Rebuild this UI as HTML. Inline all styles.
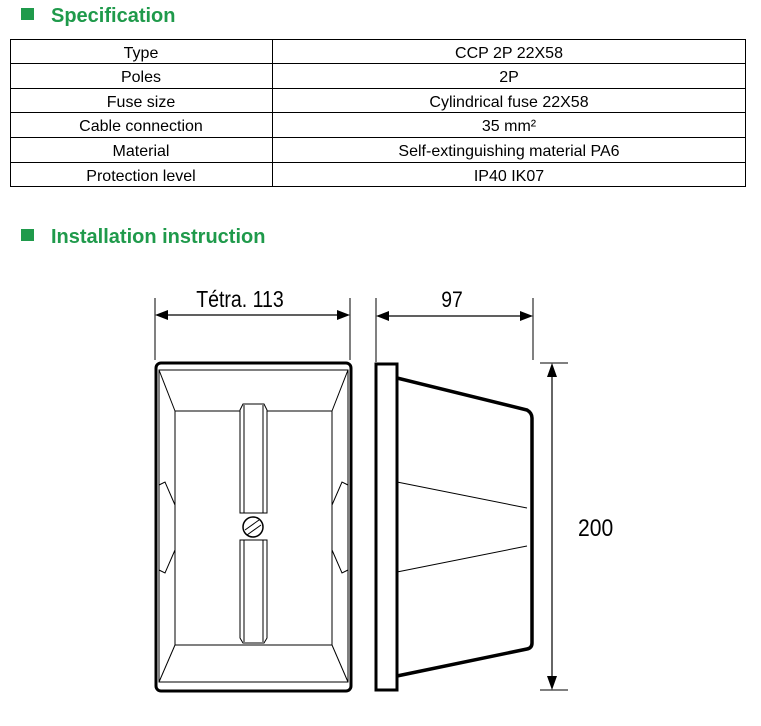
<!DOCTYPE html>
<html><head><meta charset="utf-8"><style>
body{margin:0;background:#fff;}
svg{display:block;}
</style></head><body>
<svg width="761" height="726" viewBox="0 0 761 726" xmlns="http://www.w3.org/2000/svg">
<rect width="761" height="726" fill="#fff"/>
<!-- headings -->
<rect x="21" y="8" width="13" height="12" fill="#1f9a4b"/>
<text x="51" y="22" font-family="Liberation Sans, sans-serif" font-weight="bold" font-size="20" fill="#1f9a4b">Specification</text>
<rect x="21" y="229" width="13" height="12" fill="#1f9a4b"/>
<text x="51" y="243" font-family="Liberation Sans, sans-serif" font-weight="bold" font-size="20" fill="#1f9a4b">Installation instruction</text>
<!-- table -->
<g stroke="#000" stroke-width="1" fill="none">
<rect x="10.5" y="39.5" width="735" height="147"/>
<line x1="272.5" y1="39" x2="272.5" y2="187"/>
<line x1="10" y1="63.5" x2="746" y2="63.5"/>
<line x1="10" y1="88.5" x2="746" y2="88.5"/>
<line x1="10" y1="112.5" x2="746" y2="112.5"/>
<line x1="10" y1="137.5" x2="746" y2="137.5"/>
<line x1="10" y1="162.5" x2="746" y2="162.5"/>
</g>
<g font-family="Liberation Sans, sans-serif" font-size="16" fill="#000" text-anchor="middle">
<text x="141" y="58">Type</text><text x="509" y="58">CCP 2P 22X58</text>
<text x="141" y="82">Poles</text><text x="509" y="82">2P</text>
<text x="141" y="107">Fuse size</text><text x="509" y="107">Cylindrical fuse 22X58</text>
<text x="141" y="131">Cable connection</text><text x="509" y="131">35 mm²</text>
<text x="141" y="156">Material</text><text x="509" y="156">Self-extinguishing material PA6</text>
<text x="141" y="181">Protection level</text><text x="509" y="181">IP40 IK07</text>
</g>
<!-- left drawing -->
<g stroke="#000" fill="none">
<line x1="155" y1="298" x2="155" y2="360" stroke-width="1"/>
<line x1="350" y1="298" x2="350" y2="360" stroke-width="1"/>
<line x1="162" y1="315" x2="343" y2="315" stroke-width="1.2"/>
<rect x="156" y="363" width="195" height="328" rx="5" stroke-width="3"/>
<rect x="159" y="370" width="189" height="312" stroke-width="1"/>
<rect x="175" y="411" width="157" height="234" stroke-width="1"/>
<line x1="159" y1="370" x2="175" y2="411"/><line x1="348" y1="370" x2="332" y2="411"/>
<line x1="159" y1="682" x2="175" y2="645"/><line x1="348" y1="682" x2="332" y2="645"/>
<path d="M159 485 L165 482 L175 505" /><path d="M159 570 L165 573 L175 550"/>
<path d="M348 485 L342 482 L332 505" /><path d="M348 570 L342 573 L332 550"/>
<path d="M240 513 V410 L243 404 H264 L267 410 V513 Z" fill="#fff"/>
<path d="M240 540 V638 L243 643 H264 L267 638 V540 Z" fill="#fff"/>
<line x1="244" y1="405" x2="244" y2="513"/><line x1="263" y1="405" x2="263" y2="513"/>
<line x1="244" y1="540" x2="244" y2="642"/><line x1="263" y1="540" x2="263" y2="642"/>
<circle cx="253" cy="527" r="10" stroke-width="1.5" fill="#fff"/>
<line x1="245" y1="530" x2="259" y2="520"/><line x1="247" y1="535" x2="261" y2="525"/>
</g>
<path d="M155 315 L168 310 L168 320 Z M350 315 L337 310 L337 320 Z" fill="#000"/>
<text x="240" y="307" font-family="Liberation Sans Narrow, Liberation Sans, sans-serif" font-size="23" text-anchor="middle" transform="translate(240 0) scale(0.85 1) translate(-240 0)">Tétra. 113</text>
<!-- right drawing -->
<g stroke="#000" fill="none">
<line x1="376" y1="298" x2="376" y2="362" stroke-width="1"/>
<line x1="533" y1="298" x2="533" y2="360" stroke-width="1"/>
<line x1="383" y1="316" x2="526" y2="316" stroke-width="1.2"/>
<rect x="376" y="364" width="21" height="326" stroke-width="3"/>
<path d="M397 378 L527 410 Q532 413 532 418 L532 643 Q532 648 527 649 L397 676" stroke-width="3.5"/>
<line x1="397" y1="482" x2="527" y2="508" stroke-width="1"/>
<line x1="397" y1="572" x2="527" y2="546" stroke-width="1"/>
<line x1="540" y1="363" x2="568" y2="363"/>
<line x1="540" y1="690" x2="568" y2="690"/>
<line x1="552" y1="372" x2="552" y2="681" stroke-width="1.2"/>
</g>
<path d="M376 316 L389 311 L389 321 Z M533 316 L520 311 L520 321 Z M552 363 L547 377 L557 377 Z M552 690 L547 676 L557 676 Z" fill="#000"/>
<text x="452" y="307" font-family="Liberation Sans, sans-serif" font-size="22" text-anchor="middle" transform="translate(452 0) scale(0.88 1) translate(-452 0)">97</text>
<text x="578" y="536" font-family="Liberation Sans, sans-serif" font-size="24" transform="translate(578 0) scale(0.88 1) translate(-578 0)">200</text>
</svg>
</body></html>
